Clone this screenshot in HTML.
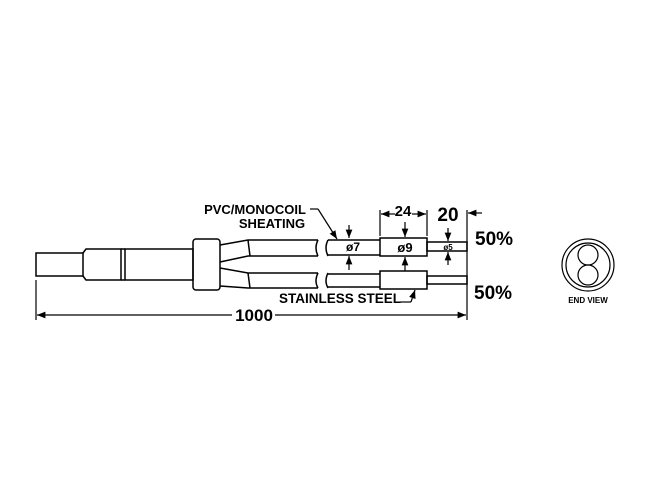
<!DOCTYPE html>
<html><head><meta charset="utf-8"><style>html,body{margin:0;padding:0;background:#fff}</style></head>
<body>
<svg width="650" height="497" viewBox="0 0 650 497" xmlns="http://www.w3.org/2000/svg" font-family="Liberation Sans, sans-serif" font-weight="bold">
<defs><marker id="a" viewBox="0 0 10 10" refX="10" refY="5" markerWidth="7" markerHeight="7" orient="auto-start-reverse"><path d="M0,1 L10,5 L0,9 z" fill="#000"/></marker></defs>
<g fill="none" stroke="#000" stroke-width="1.5">
<rect x="36" y="253" width="47" height="23"/>
<path d="M83,253 L86,249 L121,249 L121,280 L86,280 L83,276"/>
<path d="M121,249 L125,249 M121,280 L125,280"/>
<rect x="125" y="249" width="68" height="31"/>
<rect x="193" y="239" width="27" height="51" rx="3"/>
<path d="M220,245 L248,240 L318,240 M220,262 L248,256 L318,256"/>
<path d="M220,268 L248,273 L318,273 M220,286 L248,288 L318,288"/>
<path d="M248,240 L250,256 M248,273 L250,288"/>
<path d="M318,240 q-4,8 0,16 M328,240 q-4,8 0,16 M318,273 q-4,8 0,15 M328,273 q-4,8 0,15"/>
<path d="M328,240 L380,240 M328,255 L380,255"/>
<rect x="380" y="238" width="47" height="18"/>
<rect x="427" y="242" width="40" height="9"/>
<path d="M328,274 L380,274 M328,287 L380,287"/>
<rect x="380" y="271" width="47" height="18"/>
<rect x="427" y="276" width="40" height="8"/>
</g>
<g stroke="#000" stroke-width="1.2" fill="none">
<path d="M380,236 L380,210 M427,236 L427,210"/>
<line x1="395" y1="214" x2="381" y2="214" marker-end="url(#a)"/>
<line x1="412" y1="214" x2="426" y2="214" marker-end="url(#a)"/>
<path d="M467,210 L467,320 M36,280 L36,320"/>
<line x1="482" y1="213" x2="468" y2="213" marker-end="url(#a)"/>
<line x1="232" y1="315" x2="37" y2="315" marker-end="url(#a)"/>
<line x1="275" y1="315" x2="466" y2="315" marker-end="url(#a)"/>
<line x1="349" y1="225" x2="349" y2="238" marker-end="url(#a)"/>
<line x1="349" y1="270" x2="349" y2="256" marker-end="url(#a)"/>
<line x1="405" y1="222" x2="405" y2="237" marker-end="url(#a)"/>
<line x1="405" y1="271" x2="405" y2="257" marker-end="url(#a)"/>
<line x1="448" y1="228" x2="448" y2="241" marker-end="url(#a)"/>
<line x1="448" y1="265" x2="448" y2="252" marker-end="url(#a)"/>
<path d="M310,209 L318,209"/>
<line x1="318" y1="209" x2="337" y2="239" marker-end="url(#a)"/>
<path d="M400,302 L411,302"/>
<line x1="411" y1="302" x2="415" y2="290" marker-end="url(#a)"/>
<circle cx="588" cy="265" r="26"/>
<circle cx="588" cy="265" r="22"/>
<circle cx="588" cy="255" r="10"/>
<circle cx="588" cy="275" r="10"/>
</g>
<g fill="#000">
<text x="255" y="214" font-size="13" text-anchor="middle">PVC/MONOCOIL</text>
<text x="272" y="228" font-size="13" text-anchor="middle">SHEATING</text>
<text x="340" y="303" font-size="13.5" text-anchor="middle">STAINLESS STEEL</text>
<text x="403" y="216" font-size="15" text-anchor="middle">24</text>
<text x="448" y="221" font-size="19" text-anchor="middle">20</text>
<text x="475" y="245" font-size="19">50%</text>
<text x="474" y="299" font-size="19">50%</text>
<text x="254" y="321" font-size="17" text-anchor="middle">1000</text>
<text x="353" y="251" font-size="12" text-anchor="middle">ø7</text>
<text x="405" y="252" font-size="13" text-anchor="middle">ø9</text>
<text x="448" y="250" font-size="8" text-anchor="middle">ø5</text>
<text x="588" y="303" font-size="8" text-anchor="middle">END VIEW</text>
</g>
</svg>
</body></html>
